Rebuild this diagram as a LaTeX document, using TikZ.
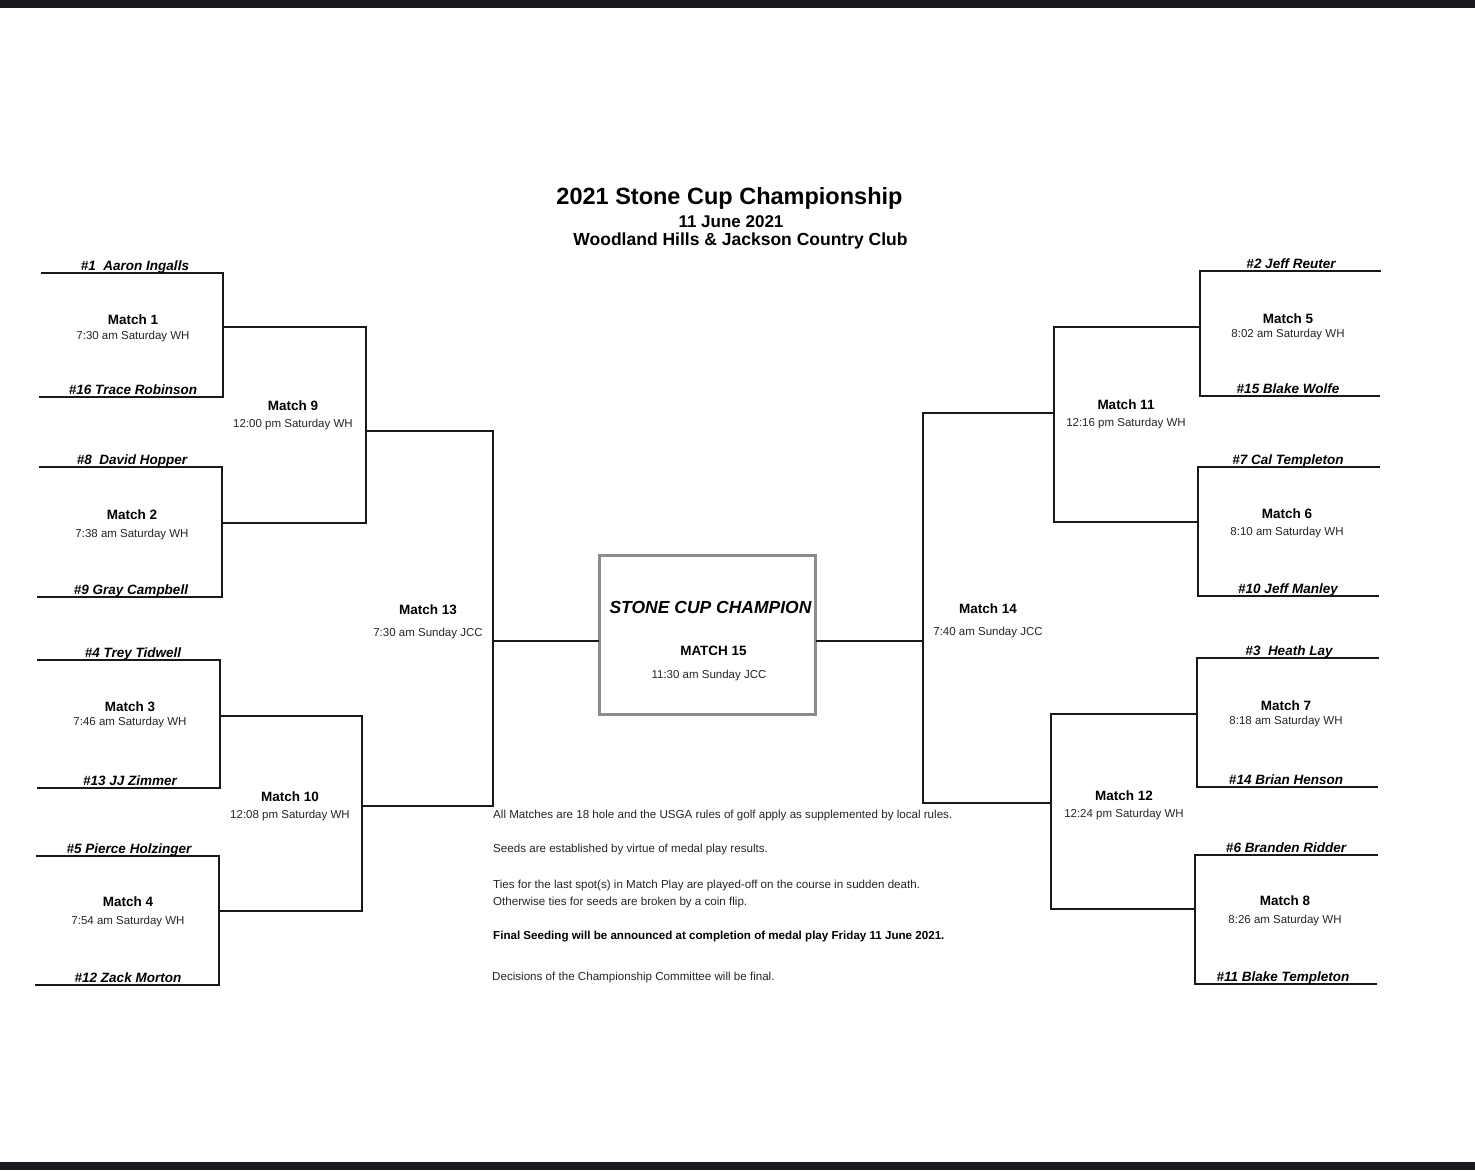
\documentclass[tikz,border=0pt]{standalone}
\usepackage{fontspec}
\setmainfont{Liberation Sans}
\definecolor{barcol}{RGB}{27,27,31}
\begin{document}
\begin{tikzpicture}[x=1pt,y=-1pt,
  br/.style={line width=2.8pt, line cap=rect, draw=black!90},
  pname/.style={font=\fontsize{13.5}{16}\selectfont\bfseries\itshape, anchor=base, inner sep=0pt},
  mtitle/.style={font=\fontsize{13.5}{16}\selectfont\bfseries, anchor=base, inner sep=0pt},
  mtime/.style={font=\fontsize{11.5}{14}\selectfont, anchor=base, inner sep=0pt, text=black!85},
  note/.style={font=\fontsize{11.6}{13}\selectfont, anchor=base west, inner sep=0pt, text=black!85},
  champbox/.style={draw=black!45, line width=3pt, minimum width=216pt, minimum height=159pt, inner sep=0pt}
]
\useasboundingbox (0,0) rectangle (1475,1170);
\fill[white] (0,0) rectangle (1475,1170);
\fill[barcol] (0,0) rectangle (1475,8);
\fill[barcol] (0,1162) rectangle (1475,1170);

% titles
\node[anchor=base, inner sep=0pt, font=\fontsize{23.5}{28}\selectfont\bfseries] (title) at (729.5,204) {2021 Stone Cup Championship};
\node[anchor=base, inner sep=0pt, font=\fontsize{17}{20}\selectfont\bfseries] (date) at (731,227) {11 June 2021};
\node[anchor=base, inner sep=0pt, font=\fontsize{17.5}{20}\selectfont\bfseries] (venue) at (740.5,245) {Woodland Hills \& Jackson Country Club};

% champion box
\node[champbox] (final) at (707.5,634.5) {};
\node[anchor=base, inner sep=0pt, font=\fontsize{17.5}{20}\selectfont\bfseries\itshape] (champ) at (710.5,613) {STONE CUP CHAMPION};
\node[mtitle] (m15) at (713.5,655) {MATCH 15};
\node[mtime] (m15t) at (709,678) {11:30 am Sunday JCC};

% ---------- coordinates left ----------
\coordinate (p1) at (42,273);  \coordinate (p16) at (40,397); \coordinate (m1) at (223,327);
\coordinate (p8) at (40,467);  \coordinate (p9) at (38,597);  \coordinate (m2) at (222,523);
\coordinate (p4) at (38,660);  \coordinate (p13) at (38,788); \coordinate (m3) at (220,716);
\coordinate (p5) at (37,856);  \coordinate (p12) at (36,985); \coordinate (m4) at (219,911);
\coordinate (m9) at (366,431); \coordinate (m10) at (362,806); \coordinate (m13) at (493,641);
% ---------- coordinates right ----------
\coordinate (p2) at (1380,271); \coordinate (p15) at (1379,396); \coordinate (m5) at (1200,327);
\coordinate (p7) at (1379,467); \coordinate (p10) at (1378,596); \coordinate (m6) at (1198,522);
\coordinate (p3) at (1378,658); \coordinate (p14) at (1377,787); \coordinate (m7) at (1197,714);
\coordinate (p6) at (1377,855); \coordinate (p11) at (1376,984); \coordinate (m8) at (1195,909);
\coordinate (m11) at (1054,413); \coordinate (m12) at (1051,803); \coordinate (m14) at (923,641);

% ---------- bracket lines left ----------
\draw[br] (p1) -- (p1-|m1) -- (p16-|m1) -- (p16);
\draw[br] (p8) -- (p8-|m2) -- (p9-|m2) -- (p9);
\draw[br] (p4) -- (p4-|m3) -- (p13-|m3) -- (p13);
\draw[br] (p5) -- (p5-|m4) -- (p12-|m4) -- (p12);
\draw[br] (m1) -- (m1-|m9) -- (m2-|m9) -- (m2);
\draw[br] (m3) -- (m3-|m10) -- (m4-|m10) -- (m4);
\draw[br] (m9) -- (m9-|m13) -- (m10-|m13) -- (m10);
\draw[br] (m13) -- (m13-|final.west);
% ---------- bracket lines right ----------
\draw[br] (p2) -- (p2-|m5) -- (p15-|m5) -- (p15);
\draw[br] (p7) -- (p7-|m6) -- (p10-|m6) -- (p10);
\draw[br] (p3) -- (p3-|m7) -- (p14-|m7) -- (p14);
\draw[br] (p6) -- (p6-|m8) -- (p11-|m8) -- (p11);
\draw[br] (m5) -- (m5-|m11) -- (m6-|m11) -- (m6);
\draw[br] (m7) -- (m7-|m12) -- (m8-|m12) -- (m8);
\draw[br] (m11) -- (m11-|m14) -- (m12-|m14) -- (m12);
\draw[br] (m14) -- (m14-|final.east);

% ---------- player names ----------
\node[pname] (n1)  at (135,270) {\#1\ \ Aaron Ingalls};
\node[pname] (n16) at (133,394) {\#16 Trace Robinson};
\node[pname] (n8)  at (132,464) {\#8\ \ David Hopper};
\node[pname] (n9)  at (131,594) {\#9 Gray Campbell};
\node[pname] (n4)  at (133,657) {\#4 Trey Tidwell};
\node[pname] (n13) at (130,785) {\#13 JJ Zimmer};
\node[pname] (n5)  at (129,853) {\#5 Pierce Holzinger};
\node[pname] (n12) at (128,982) {\#12 Zack Morton};
\node[pname] (n2)  at (1291,268) {\#2 Jeff Reuter};
\node[pname] (n15) at (1288,393) {\#15 Blake Wolfe};
\node[pname] (n7)  at (1288,464) {\#7 Cal Templeton};
\node[pname] (n10) at (1288,593) {\#10 Jeff Manley};
\node[pname] (n3)  at (1289,655) {\#3\ \ Heath Lay};
\node[pname] (n14) at (1286,784) {\#14 Brian Henson};
\node[pname] (n6)  at (1286,852) {\#6 Branden Ridder};
\node[pname] (n11) at (1283,981) {\#11 Blake Templeton};

% ---------- match labels ----------
\node[mtitle] (l1)  at (133,324) {Match 1};   \node[mtime] (t1)  at (133,339) {7:30 am Saturday WH};
\node[mtitle] (l2)  at (132,519) {Match 2};   \node[mtime] (t2)  at (132,537) {7:38 am Saturday WH};
\node[mtitle] (l3)  at (130,711) {Match 3};   \node[mtime] (t3)  at (130,725) {7:46 am Saturday WH};
\node[mtitle] (l4)  at (128,906) {Match 4};   \node[mtime] (t4)  at (128,924) {7:54 am Saturday WH};
\node[mtitle] (l9)  at (293,410) {Match 9};   \node[mtime] (t9)  at (293,427) {12:00 pm Saturday WH};
\node[mtitle] (l10) at (290,801) {Match 10};  \node[mtime] (t10) at (290,818) {12:08 pm Saturday WH};
\node[mtitle] (l13) at (428,614) {Match 13};  \node[mtime] (t13) at (428,636) {7:30 am Sunday JCC};
\node[mtitle] (l5)  at (1288,323) {Match 5};  \node[mtime] (t5)  at (1288,337) {8:02 am Saturday WH};
\node[mtitle] (l6)  at (1287,518) {Match 6};  \node[mtime] (t6)  at (1287,535) {8:10 am Saturday WH};
\node[mtitle] (l7)  at (1286,710) {Match 7};  \node[mtime] (t7)  at (1286,724) {8:18 am Saturday WH};
\node[mtitle] (l8)  at (1285,905) {Match 8};  \node[mtime] (t8)  at (1285,923) {8:26 am Saturday WH};
\node[mtitle] (l11) at (1126,409) {Match 11}; \node[mtime] (t11) at (1126,426) {12:16 pm Saturday WH};
\node[mtitle] (l12) at (1124,800) {Match 12}; \node[mtime] (t12) at (1124,817) {12:24 pm Saturday WH};
\node[mtitle] (l14) at (988,613) {Match 14};  \node[mtime] (t14) at (988,635) {7:40 am Sunday JCC};

% ---------- notes ----------
\node[note] (r1) at (493,818) {All Matches are 18 hole and the USGA rules of golf apply as supplemented by local rules.};
\node[note] (r2) at (493,852) {Seeds are established by virtue of medal play results.};
\node[note] (r3) at (493,888) {Ties for the last spot(s) in Match Play are played-off on the course in sudden death.};
\node[note] (r4) at (493,905) {Otherwise ties for seeds are broken by a coin flip.};
\node[note, font=\fontsize{11.6}{13}\selectfont\bfseries, text=black] (r5) at (493,939) {Final Seeding will be announced at completion of medal play Friday 11 June 2021.};
\node[note] (r6) at (492,980) {Decisions of the Championship Committee will be final.};
\end{tikzpicture}
\end{document}
